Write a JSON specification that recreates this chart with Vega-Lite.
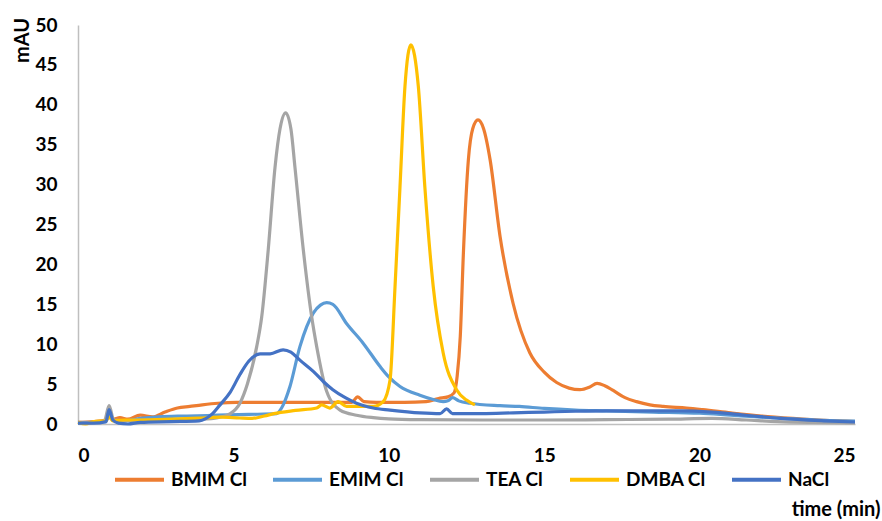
{
  "$schema": "https://vega.github.io/schema/vega-lite/v6.json",
  "width": 777,
  "height": 399,
  "autosize": "none",
  "padding": {"left": 78, "top": 25, "right": 27, "bottom": 97},
  "background": "white",
  "config": {
    "view": {"stroke": null},
    "font": "Lato",
    "axis": {
      "grid": false,
      "ticks": false,
      "tickSize": 0,
      "domainColor": "#bfbfbf",
      "domainWidth": 1.5,
      "labelFont": "Lato",
      "labelFontWeight": "bold",
      "labelFontSize": 19,
      "labelColor": "#000000",
      "titleFont": "Lato",
      "titleFontWeight": "bold",
      "titleFontSize": 20,
      "titleColor": "#000000"
    }
  },
  "data": {
    "values": [
      {"series": "BMIM Cl", "t": 0, "v": 0.2},
      {"series": "BMIM Cl", "t": 0.5, "v": 0.3},
      {"series": "BMIM Cl", "t": 0.9, "v": 0.5},
      {"series": "BMIM Cl", "t": 1.0, "v": 1.1},
      {"series": "BMIM Cl", "t": 1.12, "v": 0.6},
      {"series": "BMIM Cl", "t": 1.35, "v": 0.8},
      {"series": "BMIM Cl", "t": 1.6, "v": 0.6},
      {"series": "BMIM Cl", "t": 2.0, "v": 1.1},
      {"series": "BMIM Cl", "t": 2.4, "v": 0.9},
      {"series": "BMIM Cl", "t": 2.8, "v": 1.5},
      {"series": "BMIM Cl", "t": 3.2, "v": 2.0},
      {"series": "BMIM Cl", "t": 3.6, "v": 2.2},
      {"series": "BMIM Cl", "t": 4.0, "v": 2.4},
      {"series": "BMIM Cl", "t": 4.5, "v": 2.6},
      {"series": "BMIM Cl", "t": 5.1, "v": 2.7},
      {"series": "BMIM Cl", "t": 6.0, "v": 2.7},
      {"series": "BMIM Cl", "t": 7.0, "v": 2.7},
      {"series": "BMIM Cl", "t": 8.0, "v": 2.7},
      {"series": "BMIM Cl", "t": 8.8, "v": 2.7},
      {"series": "BMIM Cl", "t": 9.0, "v": 3.4},
      {"series": "BMIM Cl", "t": 9.2, "v": 2.8},
      {"series": "BMIM Cl", "t": 9.6, "v": 2.7},
      {"series": "BMIM Cl", "t": 10.5, "v": 2.7},
      {"series": "BMIM Cl", "t": 11.2, "v": 2.8},
      {"series": "BMIM Cl", "t": 11.6, "v": 3.2},
      {"series": "BMIM Cl", "t": 11.9, "v": 3.4},
      {"series": "BMIM Cl", "t": 12.1, "v": 3.9},
      {"series": "BMIM Cl", "t": 12.2, "v": 6.0},
      {"series": "BMIM Cl", "t": 12.3, "v": 11.0},
      {"series": "BMIM Cl", "t": 12.4, "v": 21.4},
      {"series": "BMIM Cl", "t": 12.56, "v": 33.1},
      {"series": "BMIM Cl", "t": 12.7, "v": 37.0},
      {"series": "BMIM Cl", "t": 12.87, "v": 38.1},
      {"series": "BMIM Cl", "t": 13.05, "v": 37.0},
      {"series": "BMIM Cl", "t": 13.26, "v": 33.1},
      {"series": "BMIM Cl", "t": 13.58, "v": 23.5},
      {"series": "BMIM Cl", "t": 14.0, "v": 15.1},
      {"series": "BMIM Cl", "t": 14.54, "v": 8.9},
      {"series": "BMIM Cl", "t": 15.0, "v": 6.5},
      {"series": "BMIM Cl", "t": 15.4, "v": 5.2},
      {"series": "BMIM Cl", "t": 15.8, "v": 4.5},
      {"series": "BMIM Cl", "t": 16.15, "v": 4.3},
      {"series": "BMIM Cl", "t": 16.45, "v": 4.6},
      {"series": "BMIM Cl", "t": 16.7, "v": 5.1},
      {"series": "BMIM Cl", "t": 16.95, "v": 4.8},
      {"series": "BMIM Cl", "t": 17.22, "v": 4.2},
      {"series": "BMIM Cl", "t": 17.6, "v": 3.3},
      {"series": "BMIM Cl", "t": 17.97, "v": 2.8},
      {"series": "BMIM Cl", "t": 18.4, "v": 2.4},
      {"series": "BMIM Cl", "t": 18.83, "v": 2.2},
      {"series": "BMIM Cl", "t": 19.58, "v": 2.0},
      {"series": "BMIM Cl", "t": 20.1, "v": 1.8},
      {"series": "BMIM Cl", "t": 21.0, "v": 1.4},
      {"series": "BMIM Cl", "t": 22.0, "v": 1.0},
      {"series": "BMIM Cl", "t": 23.0, "v": 0.7},
      {"series": "BMIM Cl", "t": 24.0, "v": 0.45},
      {"series": "BMIM Cl", "t": 25.0, "v": 0.3},

      {"series": "EMIM Cl", "t": 0, "v": 0.1},
      {"series": "EMIM Cl", "t": 0.5, "v": 0.2},
      {"series": "EMIM Cl", "t": 0.9, "v": 0.3},
      {"series": "EMIM Cl", "t": 1.0, "v": 1.5},
      {"series": "EMIM Cl", "t": 1.12, "v": 0.5},
      {"series": "EMIM Cl", "t": 1.5, "v": 0.4},
      {"series": "EMIM Cl", "t": 2.0, "v": 0.7},
      {"series": "EMIM Cl", "t": 2.6, "v": 0.9},
      {"series": "EMIM Cl", "t": 3.5, "v": 1.0},
      {"series": "EMIM Cl", "t": 4.5, "v": 1.1},
      {"series": "EMIM Cl", "t": 5.5, "v": 1.2},
      {"series": "EMIM Cl", "t": 6.39, "v": 1.3},
      {"series": "EMIM Cl", "t": 6.55, "v": 2.0},
      {"series": "EMIM Cl", "t": 6.82, "v": 4.7},
      {"series": "EMIM Cl", "t": 7.14, "v": 9.7},
      {"series": "EMIM Cl", "t": 7.57, "v": 13.9},
      {"series": "EMIM Cl", "t": 7.8, "v": 14.9},
      {"series": "EMIM Cl", "t": 8.0, "v": 15.2},
      {"series": "EMIM Cl", "t": 8.2, "v": 15.0},
      {"series": "EMIM Cl", "t": 8.64, "v": 12.6},
      {"series": "EMIM Cl", "t": 9.18, "v": 10.1},
      {"series": "EMIM Cl", "t": 9.72, "v": 7.2},
      {"series": "EMIM Cl", "t": 10.0, "v": 5.9},
      {"series": "EMIM Cl", "t": 10.36, "v": 4.7},
      {"series": "EMIM Cl", "t": 11.0, "v": 3.6},
      {"series": "EMIM Cl", "t": 11.4, "v": 3.1},
      {"series": "EMIM Cl", "t": 11.75, "v": 2.8},
      {"series": "EMIM Cl", "t": 11.9, "v": 2.9},
      {"series": "EMIM Cl", "t": 12.05, "v": 3.3},
      {"series": "EMIM Cl", "t": 12.25, "v": 2.9},
      {"series": "EMIM Cl", "t": 12.6, "v": 2.6},
      {"series": "EMIM Cl", "t": 13.58, "v": 2.3},
      {"series": "EMIM Cl", "t": 14.2, "v": 2.2},
      {"series": "EMIM Cl", "t": 15.0, "v": 1.95},
      {"series": "EMIM Cl", "t": 16.0, "v": 1.75},
      {"series": "EMIM Cl", "t": 17.0, "v": 1.65},
      {"series": "EMIM Cl", "t": 18.5, "v": 1.5},
      {"series": "EMIM Cl", "t": 20.0, "v": 1.35},
      {"series": "EMIM Cl", "t": 21.0, "v": 1.1},
      {"series": "EMIM Cl", "t": 22.0, "v": 0.85},
      {"series": "EMIM Cl", "t": 23.0, "v": 0.65},
      {"series": "EMIM Cl", "t": 24.0, "v": 0.45},
      {"series": "EMIM Cl", "t": 25.0, "v": 0.35},

      {"series": "TEA Cl", "t": 0, "v": 0.2},
      {"series": "TEA Cl", "t": 0.5, "v": 0.2},
      {"series": "TEA Cl", "t": 0.85, "v": 0.4},
      {"series": "TEA Cl", "t": 1.0, "v": 2.3},
      {"series": "TEA Cl", "t": 1.15, "v": 0.5},
      {"series": "TEA Cl", "t": 1.5, "v": 0.4},
      {"series": "TEA Cl", "t": 2.0, "v": 0.5},
      {"series": "TEA Cl", "t": 3.0, "v": 0.5},
      {"series": "TEA Cl", "t": 4.0, "v": 0.6},
      {"series": "TEA Cl", "t": 4.5, "v": 0.8},
      {"series": "TEA Cl", "t": 4.9, "v": 1.3},
      {"series": "TEA Cl", "t": 5.21, "v": 2.6},
      {"series": "TEA Cl", "t": 5.45, "v": 5.0},
      {"series": "TEA Cl", "t": 5.75, "v": 9.7},
      {"series": "TEA Cl", "t": 5.91, "v": 13.4},
      {"series": "TEA Cl", "t": 6.12, "v": 21.8},
      {"series": "TEA Cl", "t": 6.34, "v": 32.2},
      {"series": "TEA Cl", "t": 6.5, "v": 37.0},
      {"series": "TEA Cl", "t": 6.68, "v": 39.0},
      {"series": "TEA Cl", "t": 6.85, "v": 37.0},
      {"series": "TEA Cl", "t": 6.98, "v": 32.2},
      {"series": "TEA Cl", "t": 7.25, "v": 21.8},
      {"series": "TEA Cl", "t": 7.52, "v": 13.4},
      {"series": "TEA Cl", "t": 7.68, "v": 9.7},
      {"series": "TEA Cl", "t": 8.0, "v": 4.1},
      {"series": "TEA Cl", "t": 8.43, "v": 1.75},
      {"series": "TEA Cl", "t": 8.96, "v": 1.1},
      {"series": "TEA Cl", "t": 9.5, "v": 0.8},
      {"series": "TEA Cl", "t": 10.0, "v": 0.65},
      {"series": "TEA Cl", "t": 11.0, "v": 0.55},
      {"series": "TEA Cl", "t": 13.0, "v": 0.5},
      {"series": "TEA Cl", "t": 15.0, "v": 0.5},
      {"series": "TEA Cl", "t": 17.0, "v": 0.55},
      {"series": "TEA Cl", "t": 19.0, "v": 0.6},
      {"series": "TEA Cl", "t": 20.4, "v": 0.7},
      {"series": "TEA Cl", "t": 21.5, "v": 0.5},
      {"series": "TEA Cl", "t": 22.5, "v": 0.3},
      {"series": "TEA Cl", "t": 23.6, "v": 0.2},
      {"series": "TEA Cl", "t": 25.0, "v": 0.15},

      {"series": "DMBA Cl", "t": 0, "v": 0.2},
      {"series": "DMBA Cl", "t": 0.25, "v": 0.0},
      {"series": "DMBA Cl", "t": 0.5, "v": 0.3},
      {"series": "DMBA Cl", "t": 0.9, "v": 0.4},
      {"series": "DMBA Cl", "t": 1.0, "v": 0.9},
      {"series": "DMBA Cl", "t": 1.12, "v": 0.4},
      {"series": "DMBA Cl", "t": 1.5, "v": 0.5},
      {"series": "DMBA Cl", "t": 2.0, "v": 0.5},
      {"series": "DMBA Cl", "t": 3.0, "v": 0.6},
      {"series": "DMBA Cl", "t": 4.0, "v": 0.75},
      {"series": "DMBA Cl", "t": 4.6, "v": 0.85},
      {"series": "DMBA Cl", "t": 5.2, "v": 0.75},
      {"series": "DMBA Cl", "t": 5.6, "v": 0.7},
      {"series": "DMBA Cl", "t": 6.0, "v": 1.0},
      {"series": "DMBA Cl", "t": 6.3, "v": 1.3},
      {"series": "DMBA Cl", "t": 7.0, "v": 1.7},
      {"series": "DMBA Cl", "t": 7.68, "v": 2.0},
      {"series": "DMBA Cl", "t": 7.84, "v": 2.4},
      {"series": "DMBA Cl", "t": 8.1, "v": 2.0},
      {"series": "DMBA Cl", "t": 8.37, "v": 2.8},
      {"series": "DMBA Cl", "t": 8.64, "v": 2.2},
      {"series": "DMBA Cl", "t": 9.0, "v": 2.2},
      {"series": "DMBA Cl", "t": 9.5, "v": 2.2},
      {"series": "DMBA Cl", "t": 9.82, "v": 2.8},
      {"series": "DMBA Cl", "t": 10.04, "v": 5.5},
      {"series": "DMBA Cl", "t": 10.2, "v": 17.2},
      {"series": "DMBA Cl", "t": 10.36, "v": 29.7},
      {"series": "DMBA Cl", "t": 10.52, "v": 42.3},
      {"series": "DMBA Cl", "t": 10.71, "v": 47.5},
      {"series": "DMBA Cl", "t": 10.95, "v": 42.3},
      {"series": "DMBA Cl", "t": 11.16, "v": 29.7},
      {"series": "DMBA Cl", "t": 11.43, "v": 17.2},
      {"series": "DMBA Cl", "t": 11.75, "v": 8.9},
      {"series": "DMBA Cl", "t": 12.18, "v": 4.3},
      {"series": "DMBA Cl", "t": 12.5, "v": 3.0},
      {"series": "DMBA Cl", "t": 12.77, "v": 2.4},

      {"series": "NaCl", "t": 0, "v": 0.1},
      {"series": "NaCl", "t": 0.5, "v": 0.1},
      {"series": "NaCl", "t": 0.9, "v": 0.3},
      {"series": "NaCl", "t": 1.0, "v": 1.8},
      {"series": "NaCl", "t": 1.12, "v": 0.5},
      {"series": "NaCl", "t": 1.3, "v": 0.1},
      {"series": "NaCl", "t": 1.6, "v": 0.0},
      {"series": "NaCl", "t": 2.0, "v": 0.2},
      {"series": "NaCl", "t": 3.0, "v": 0.3},
      {"series": "NaCl", "t": 3.9, "v": 0.4},
      {"series": "NaCl", "t": 4.3, "v": 1.2},
      {"series": "NaCl", "t": 4.57, "v": 2.4},
      {"series": "NaCl", "t": 4.9, "v": 4.0},
      {"series": "NaCl", "t": 5.21, "v": 6.2},
      {"series": "NaCl", "t": 5.5, "v": 7.9},
      {"series": "NaCl", "t": 5.86, "v": 8.8},
      {"series": "NaCl", "t": 6.18, "v": 8.8},
      {"series": "NaCl", "t": 6.6, "v": 9.3},
      {"series": "NaCl", "t": 6.85, "v": 9.0},
      {"series": "NaCl", "t": 7.14, "v": 8.0},
      {"series": "NaCl", "t": 7.57, "v": 6.6},
      {"series": "NaCl", "t": 7.9, "v": 5.3},
      {"series": "NaCl", "t": 8.2, "v": 4.3},
      {"series": "NaCl", "t": 8.6, "v": 3.3},
      {"series": "NaCl", "t": 8.96, "v": 2.6},
      {"series": "NaCl", "t": 9.5, "v": 2.0},
      {"series": "NaCl", "t": 10.04, "v": 1.75},
      {"series": "NaCl", "t": 11.0, "v": 1.4},
      {"series": "NaCl", "t": 11.65, "v": 1.3},
      {"series": "NaCl", "t": 11.86, "v": 1.9},
      {"series": "NaCl", "t": 12.05, "v": 1.3},
      {"series": "NaCl", "t": 13.0, "v": 1.3},
      {"series": "NaCl", "t": 14.0, "v": 1.4},
      {"series": "NaCl", "t": 15.0, "v": 1.5},
      {"series": "NaCl", "t": 16.0, "v": 1.6},
      {"series": "NaCl", "t": 17.0, "v": 1.65},
      {"series": "NaCl", "t": 18.0, "v": 1.65},
      {"series": "NaCl", "t": 19.4, "v": 1.65},
      {"series": "NaCl", "t": 20.4, "v": 1.5},
      {"series": "NaCl", "t": 21.5, "v": 1.1},
      {"series": "NaCl", "t": 22.6, "v": 0.7},
      {"series": "NaCl", "t": 24.0, "v": 0.4},
      {"series": "NaCl", "t": 25.0, "v": 0.25}
    ]
  },
  "mark": {"type": "line", "interpolate": "monotone", "strokeWidth": 3.2},
  "encoding": {
    "x": {
      "field": "t",
      "type": "quantitative",
      "scale": {"domain": [0, 25], "nice": false, "zero": false},
      "axis": {
        "values": [0, 5, 10, 15, 20, 25],
        "labelPadding": 22,
        "title": "time (min)",
        "titleX": 802,
        "titleY": 91,
        "titleAlign": "right",
        "titleBaseline": "alphabetic",
        "titleAnchor": null
      }
    },
    "y": {
      "field": "v",
      "type": "quantitative",
      "scale": {"domain": [0, 50], "nice": false},
      "axis": {
        "values": [0, 5, 10, 15, 20, 25, 30, 35, 40, 45, 50],
        "labelPadding": 21,
        "title": "mAU",
        "titleAngle": -90,
        "titleX": -50,
        "titleY": 15,
        "titleAlign": "center",
        "titleBaseline": "alphabetic",
        "titleAnchor": null
      }
    },
    "color": {
      "field": "series",
      "type": "nominal",
      "scale": {
        "domain": ["BMIM Cl", "EMIM Cl", "TEA Cl", "DMBA Cl", "NaCl"],
        "range": ["#ED7D31", "#5B9BD5", "#A5A5A5", "#FFC000", "#4472C4"]
      },
      "legend": {
        "title": null,
        "orient": "none",
        "legendX": 35,
        "legendY": 428,
        "direction": "horizontal",
        "columns": 5,
        "columnPadding": 18,
        "padding": 0,
        "symbolType": "stroke",
        "symbolSize": 2401,
        "symbolStrokeWidth": 4,
        "labelOffset": 5,
        "labelFont": "Lato",
        "labelFontWeight": "bold",
        "labelFontSize": 19,
        "labelColor": "#000000",
        "labelLimit": 300
      }
    }
  }
}
